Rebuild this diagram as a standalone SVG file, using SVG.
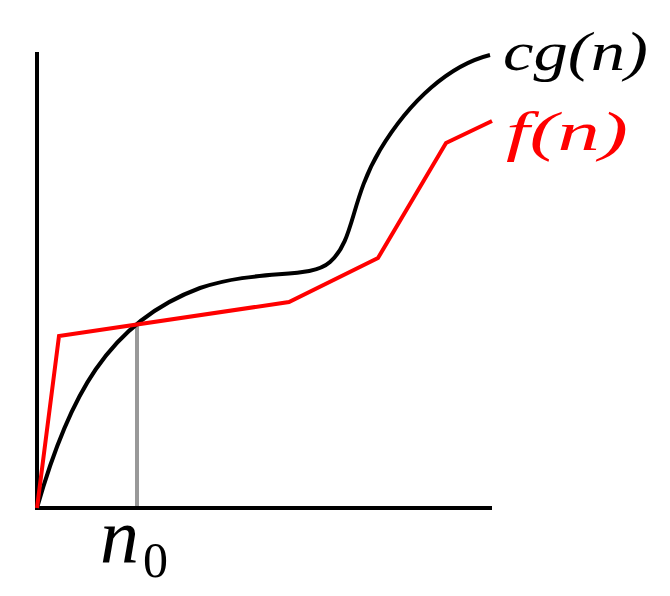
<svg xmlns="http://www.w3.org/2000/svg" width="670" height="596" viewBox="0 0 670 596">
<style>
.axis{stroke:#000;stroke-width:4;fill:none}
text{font-family:'Liberation Serif','Times New Roman',serif}
.it{font-style:italic}
</style>
<rect width="670" height="596" fill="#fff"/>
<g id="connectors">
<line class="axis" x1="37" y1="52" x2="37" y2="510"/>
<line class="axis" x1="35" y1="508" x2="492" y2="508"/>
<line x1="137" y1="323" x2="137" y2="506" stroke="#999" stroke-width="4"/>
<path id="cg" d="M37,508 C68,398 108,322 200,288 C260,268 310,280 330,262 C355,240 350,200 380,150 C410,100 450,65 490,55" fill="none" stroke="#000" stroke-width="4"/>
<polyline id="f" points="37,508 59,336 289,302 378,258 446,143 492,121" fill="none" stroke="#f00" stroke-width="4" stroke-linejoin="miter"/>
</g>
<g id="label-cg"><text class="it" x="503" y="70" font-size="54" textLength="145" lengthAdjust="spacingAndGlyphs">cg(n)</text></g>
<g id="label-f"><text class="it" x="506" y="150" font-size="54" fill="#f00" textLength="122" lengthAdjust="spacingAndGlyphs">f(n)</text></g>
<g id="label-n0"><text class="it" x="100" y="563" font-size="78">n</text><text x="143" y="577" font-size="50">0</text></g>
</svg>
